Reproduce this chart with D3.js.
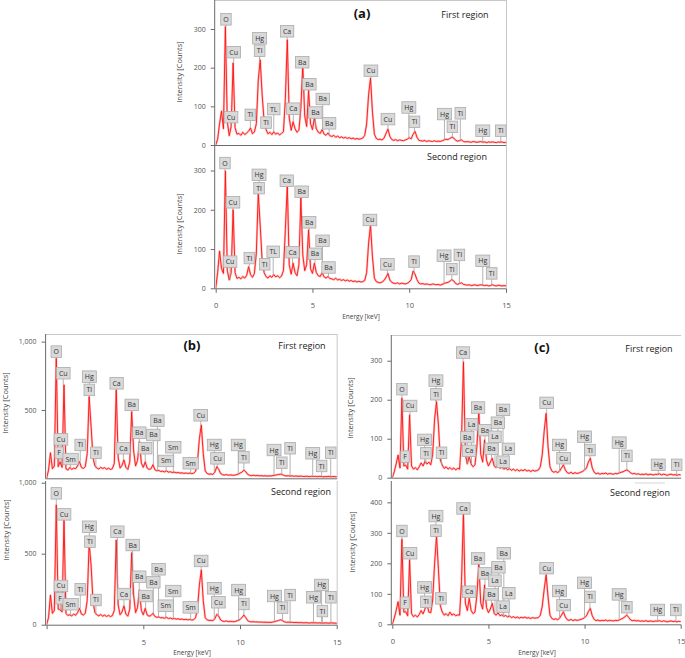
<!DOCTYPE html>
<html><head><meta charset="utf-8">
<script src="https://cdn.jsdelivr.net/npm/d3@7"></script>
<style>
body{margin:0;background:#fff}
svg{display:block}
text{font-family:"Open Sans","Noto Sans",Arial,sans-serif}
</style>
</head><body>
<svg id="chart" width="685" height="658"></svg>
<script>
// ---------- DATA ----------
// energy axis: 0.0 .. 15.0 keV, step 0.1 keV (151 channels)
const energies = d3.range(0, 151).map(i => i / 10);

// (a) first region
const spectrumA1 = [
0,15,55,88,42,306,60,24,48,212,
45,28,30,25,33,27,31,36,44,29,
34,55,168,220,130,62,40,29,33,27,
34,28,31,26,30,34,120,272,70,38,
60,42,33,38,95,207,75,48,142,55,
40,70,42,33,30,40,28,25,31,24,
22,25,20,23,19,21,18,20,17,19,
16,18,15,17,15,16,18,25,55,130,
173,85,28,17,14,15,13,18,30,41,
22,14,12,14,11,13,12,11,13,15,
19,16,28,35,20,12,11,10,12,9,
11,10,9,11,9,10,9,11,13,15,
14,17,20,18,12,10,11,13,9,8,
9,8,7,9,8,7,8,9,7,8,
6,8,7,8,7,6,8,7,8,6,
7];
// (a) second region
const spectrumA2 = [
0,40,95,50,38,299,45,21,40,200,
40,25,28,24,30,26,33,55,35,28,
38,90,242,160,70,40,30,26,32,28,
35,29,32,27,31,45,150,263,60,36,
64,40,32,60,230,85,45,60,149,50,
38,64,40,32,30,40,29,26,30,25,
24,22,26,21,23,20,22,19,21,18,
20,17,19,16,18,16,17,20,40,115,
161,80,26,17,15,14,16,20,28,38,
21,15,13,12,14,11,13,12,11,13,
16,22,44,36,22,13,11,12,10,11,
10,9,11,10,9,10,8,10,12,14,
15,18,22,19,12,10,12,14,10,9,
8,9,7,8,9,7,8,9,8,7,
8,6,7,9,7,6,8,7,6,7,
6];
// (b) first region
const spectrumB1 = [
0,60,187,70,90,878,85,120,80,683,
70,60,80,65,75,70,90,122,80,72,
85,180,597,380,150,90,75,68,80,72,
78,66,74,65,70,110,646,150,75,95,
134,80,65,120,488,200,90,130,268,110,
80,120,75,65,70,100,62,55,58,50,
52,47,55,45,48,42,45,40,43,38,
40,36,39,35,38,34,37,50,120,290,
390,180,55,35,30,32,28,45,85,65,
35,26,24,27,22,25,23,22,26,30,
38,45,60,48,28,22,20,22,19,21,
18,20,17,19,16,18,17,20,22,25,
28,30,26,20,17,19,16,18,15,17,
14,16,15,13,15,14,12,15,13,14,
12,14,13,11,13,12,14,11,13,12,
11];
// (b) second region
const spectrumB2 = [
0,50,209,80,100,843,110,104,90,737,
80,65,70,62,75,66,85,115,75,68,
80,170,573,420,160,85,70,62,72,60,
68,58,66,57,64,100,596,140,70,90,
132,75,60,110,507,210,85,120,244,100,
70,115,68,60,65,80,58,52,55,48,
50,45,52,43,47,41,44,39,42,37,
40,35,38,34,37,33,36,48,110,280,
385,170,50,34,30,31,28,42,73,60,
33,25,23,26,22,24,22,21,25,30,
36,50,68,50,28,22,20,21,19,20,
18,19,17,18,16,17,16,19,22,26,
30,35,28,20,17,18,16,17,15,16,
14,15,14,13,15,13,12,14,13,14,
12,13,12,11,13,12,11,13,12,11,
10];
// (c) first region
const spectrumC1 = [
0,15,35,58,25,204,30,32,22,161,
30,22,26,20,28,38,30,42,35,40,
33,60,150,195,135,45,32,24,28,22,
26,21,25,20,24,22,100,297,60,35,
54,35,28,33,80,170,60,40,97,45,
30,40,50,30,26,33,24,27,22,25,
20,23,19,22,18,21,17,20,18,21,
17,19,16,19,17,18,20,28,60,120,
165,80,28,17,14,16,13,17,25,33,
20,13,11,14,10,13,11,12,14,16,
20,25,40,50,25,14,10,12,9,11,
10,12,9,11,10,9,11,10,12,14,
15,18,20,17,12,10,11,9,10,8,
9,8,10,7,9,8,7,9,8,10,
7,9,8,6,8,9,7,8,6,8,
7];
// (c) second region
const spectrumC2 = [
0,20,45,74,30,279,40,41,28,211,
35,25,30,24,32,45,34,50,68,40,
38,80,200,290,180,60,40,30,35,28,
40,30,34,28,31,30,140,369,70,45,
85,45,35,40,95,200,70,50,129,55,
38,50,69,35,30,38,28,31,26,29,
24,27,22,25,21,24,20,23,21,24,
20,22,19,22,20,21,22,30,60,115,
162,90,30,19,16,18,15,20,30,41,
24,15,13,16,12,15,13,14,16,18,
22,28,42,52,28,16,12,14,11,13,
12,14,11,13,12,11,13,12,14,17,
20,25,30,22,14,12,13,11,12,10,
11,10,12,9,11,10,9,11,10,12,
9,11,10,8,10,11,9,10,8,10,
9];

// element markers: name, energy (keV), marker level (counts)
const markA1Names  = ["O","Cu","Cu","Tl","Hg","Tl","Tl","TL","Ca","Ca","Ba","Ba","Ba","Ba","Ba","Cu","Cu","Hg","Tl","Hg","Tl","Tl","Hg","Tl"];
const markA1Energy = [0.53,0.93,0.79,1.79,2.27,2.27,2.6,3.0,3.69,4.01,4.47,4.84,5.53,5.15,5.86,8.02,8.9,9.98,10.27,11.82,12.23,12.64,13.8,14.73];
const markA1Level  = [325,240,72,78,276,244,58,93,294,94,214,157,119,84,56,192,67,97,60,80,47,82,37,37];

const markA2Names  = ["O","Cu","Cu","Tl","Hg","Tl","Tl","TL","Ca","Ca","Ba","Ba","Ba","Ba","Ba","Cu","Cu","Tl","Hg","Tl","Tl","Hg","Tl"];
const markA2Energy = [0.48,0.89,0.74,1.74,2.24,2.24,2.53,2.97,3.67,3.97,4.44,4.83,5.52,5.13,5.83,7.97,8.87,10.25,11.8,12.2,12.59,13.8,14.26];
const markA2Level  = [319,219,68,77,289,255,61,93,274,92,246,168,121,88,53,174,61,68,83,49,85,70,38];

const markB1Names  = ["O","Cu","Cu","F","Sm","Tl","Hg","Tl","Tl","Ca","Ca","Ba","Ba","Ba","Ba","Ba","Sm","Sm","Sm","Cu","Hg","Cu","Hg","Tl","Hg","Tl","Tl","Hg","Tl","Tl"];
const markB1Energy = [0.5,0.86,0.74,0.65,1.24,1.74,2.21,2.21,2.55,3.62,3.97,4.4,4.79,5.73,5.52,5.1,6.55,6.18,7.45,7.97,8.67,8.84,9.91,10.2,11.76,12.16,12.59,13.76,14.22,14.69];
const markB1Level  = [927,769,285,187,141,244,744,647,187,695,220,537,334,422,317,220,227,127,110,461,244,146,244,154,207,114,220,183,90,187];

const markB2Names  = ["O","Cu","Cu","F","Sm","Tl","Hg","Tl","Tl","Ca","Ca","Ba","Ba","Ba","Ba","Ba","Sm","Sm","Sm","Cu","Hg","Cu","Hg","Tl","Hg","Tl","Tl","Hg","Hg","Tl","Tl"];
const markB2Energy = [0.5,0.9,0.74,0.7,1.24,1.74,2.21,2.24,2.55,3.66,4.0,4.45,4.79,5.79,5.52,5.12,6.55,6.16,7.45,7.99,8.67,8.88,9.93,10.2,11.78,12.2,12.59,13.8,14.22,14.26,14.7];
const markB2Level  = [925,777,273,186,144,249,690,585,174,655,216,561,338,390,299,202,237,134,122,449,256,158,244,146,202,120,209,193,280,96,193];

const markC1Names  = ["O","Cu","F","Hg","Tl","Hg","Tl","Tl","Ca","Ba","La","Ba","Ca","Ba","Ba","Ba","La","Ba","La","La","Cu","Hg","Cu","Hg","Tl","Hg","Tl","Hg","Tl"];
const markC1Energy = [0.5,0.92,0.66,1.68,1.75,2.27,2.27,2.56,3.68,4.46,4.12,3.9,4.0,4.82,5.16,5.49,5.34,5.76,6.04,5.76,8.03,8.7,8.91,10.0,10.28,11.8,12.2,13.83,14.79];
const markC1Level  = [227,184,54,97,63,249,214,64,321,180,137,104,69,122,74,141,105,174,74,41,192,84,50,105,71,90,56,33,33];

const markC2Names  = ["O","Cu","F","Hg","Tl","Hg","Tl","Tl","Ca","Ba","Ca","Ba","Ba","Ba","La","Ba","La","La","Cu","Hg","Cu","Hg","Tl","Hg","Tl","Hg","Tl"];
const markC2Energy = [0.5,0.92,0.66,1.68,1.75,2.27,2.27,2.53,3.7,4.46,4.0,4.82,5.16,5.52,5.34,5.8,6.06,5.76,8.03,8.7,8.91,10.0,10.28,11.8,12.2,13.8,14.75];
const markC2Level  = [306,233,71,121,74,355,307,85,380,216,107,167,98,187,143,233,102,58,184,109,63,136,90,98,56,47,47];

const yTicksA = [0,100,200,300];
const yTicksB1 = [500,1000];
const yTicksB2 = [0,500,1000];
const yTicksC2 = [0,100,200,300,400];
const xTickLabelsAC = [0,5,10,15];
const xTickLabelsB = [5,10,15];

// ---------- LAYOUT ----------
const panels = [
 {data:spectrumA1, names:markA1Names, en:markA1Energy, lv:markA1Level,
  x0:215.7, x1:506, yTop:0, yBot:145, yMax:375, yTicks:yTicksA, minor:20, xLabels:null, fmt:d3.format("d"),
  frameTop:true, frameRight:true, ylab:[180,72], title:["(a)",362,15], region:["First region",465,16]},
 {data:spectrumA2, names:markA2Names, en:markA2Energy, lv:markA2Level,
  x0:215.7, x1:506, yTop:145, yBot:288.3, yMax:365, yTicks:yTicksA, minor:20, xLabels:xTickLabelsAC, fmt:d3.format("d"),
  frameTop:false, frameRight:true, ylab:[180,224], region:["Second region",457,158], xtitle:[361,317]},
 {data:spectrumB1, names:markB1Names, en:markB1Energy, lv:markB1Level,
  x0:46.6, x1:336.7, yTop:334, yBot:478.3, yMax:1056, yTicks:yTicksB1, minor:100, xLabels:null, fmt:d3.format(","),
  frameTop:true, frameRight:true, ylab:[6,403], title:["(b)",192,347], region:["First region",302,347]},
 {data:spectrumB2, names:markB2Names, en:markB2Energy, lv:markB2Level,
  x0:46.6, x1:336.7, yTop:481, yBot:624.7, yMax:1012, yTicks:yTicksB2, minor:100, xLabels:xTickLabelsB, fmt:d3.format(","),
  frameTop:false, frameRight:true, ylab:[7,530], region:["Second region",301,493], xtitle:[192,653]},
 {data:spectrumC1, names:markC1Names, en:markC1Energy, lv:markC1Level,
  x0:392.3, x1:680.7, yTop:335, yBot:477.7, yMax:366, yTicks:yTicksA, minor:20, xLabels:null, fmt:d3.format("d"),
  frameTop:true, frameRight:false, ylab:[351,408], title:["(c)",542,349], region:["First region",649,350]},
 {data:spectrumC2, names:markC2Names, en:markC2Energy, lv:markC2Level,
  x0:392.3, x1:680.7, yTop:481, yBot:624.3, yMax:470, yTicks:yTicksC2, minor:20, xLabels:xTickLabelsAC, fmt:d3.format("d"),
  frameTop:false, frameRight:false, ylab:[353,542], region:["Second region",640,494], xtitle:[537,653]}
];

const svg = d3.select("#chart");
const axisCol = "#6b6b6b", tickTxt = "#555";

panels.forEach((p, pi) => {
  const x = d3.scaleLinear().domain([0, 15]).range([p.x0, p.x1]);
  const y = d3.scaleLinear().domain([0, p.yMax]).range([p.yBot, p.yTop]);
  const g = svg.append("g");
  const right = Math.min(p.x1 + 0.5, 684.5);

  // frame
  if (p.frameTop) g.append("line").attr("x1", p.x0 - 1).attr("x2", right).attr("y1", p.yTop + 0.5).attr("y2", p.yTop + 0.5)
      .attr("stroke", "#c8c8c8").attr("stroke-width", 1);
  if (p.frameRight) g.append("line").attr("x1", right).attr("x2", right).attr("y1", p.yTop).attr("y2", p.yBot)
      .attr("stroke", "#c8c8c8").attr("stroke-width", 1);

  // clip
  const cid = "clip" + pi;
  svg.append("clipPath").attr("id", cid).append("rect")
    .attr("x", p.x0).attr("y", p.yTop).attr("width", p.x1 - p.x0 + 1).attr("height", p.yBot - p.yTop);

  // spectrum
  const line = d3.line().x((d, i) => x(energies[i])).y(d => y(d));
  const sg = g.append("g").attr("clip-path", `url(#${cid})`);
  sg.append("path").datum(p.data).attr("d", line).attr("fill", "none")
    .attr("stroke", "#ff8a8a").attr("stroke-width", 2.2).attr("stroke-opacity", 0.55).attr("stroke-linejoin", "round");
  sg.append("path").datum(p.data).attr("d", line).attr("fill", "none")
    .attr("stroke", "#ff1010").attr("stroke-width", 0.9).attr("stroke-linejoin", "round");

  // y axis
  const yAx = g.append("g").attr("transform", `translate(${p.x0 - 1},0)`);
  yAx.call(d3.axisLeft(y).tickValues(d3.range(0, p.yMax, p.minor)).tickSize(2).tickFormat(""));
  yAx.call(d3.axisLeft(y).tickValues(p.yTicks).tickSize(4).tickPadding(5).tickFormat(p.fmt));
  yAx.selectAll(".domain").remove();
  yAx.append("line").attr("y1", p.yTop).attr("y2", p.yBot + 0.5).attr("stroke", axisCol);
  yAx.selectAll("line").attr("stroke", axisCol);
  yAx.selectAll("text").attr("fill", tickTxt).style("font-size", "7px");

  // x axis
  const xAx = g.append("g").attr("transform", `translate(0,${p.yBot + 0.5})`);
  xAx.append("line").attr("x1", p.x0 - 1).attr("x2", right).attr("stroke", axisCol);
  if (p.xLabels) {
    xAx.call(d3.axisBottom(x).tickValues(d3.range(0, 16)).tickSize(2).tickFormat(""));
    xAx.call(d3.axisBottom(x).tickValues([0, 5, 10, 15]).tickSize(4).tickPadding(10)
      .tickFormat(v => p.xLabels.includes(v) ? v : ""));
    xAx.selectAll(".domain").remove();
    xAx.selectAll("line").attr("stroke", axisCol);
    xAx.selectAll("text").attr("fill", tickTxt).style("font-size", "7.5px");
    g.append("text").attr("x", p.xtitle[0]).attr("y", p.xtitle[1]).attr("text-anchor", "middle")
      .attr("dominant-baseline", "middle").attr("fill", "#444").style("font-size", "6.5px").text("Energy [keV]");
  }

  // y title
  g.append("text").attr("transform", `translate(${p.ylab[0]},${p.ylab[1]}) rotate(-90)`)
    .attr("text-anchor", "middle").attr("dominant-baseline", "middle")
    .attr("fill", "#444").style("font-size", "7.5px").text("Intensity [Counts]");

  // titles
  if (p.title) g.append("text").attr("x", p.title[1]).attr("y", p.title[2]).attr("text-anchor", "middle")
    .attr("dominant-baseline", "middle").style("font-size", "13px").style("font-weight", "bold").attr("fill", "#111").text(p.title[0]);
  g.append("text").attr("x", p.region[1]).attr("y", p.region[2]).attr("text-anchor", "middle")
    .attr("dominant-baseline", "middle").style("font-size", "9px").attr("fill", "#222").text(p.region[0]);

  // element markers
  const boxH = 11.5;
  const mk = g.append("g");
  const conn = mk.append("g");
  const boxes = mk.append("g");
  p.names.forEach((n, i) => {
    const e = p.en[i];
    const cx = x(e), cy = y(p.lv[i]);
    const idx = Math.max(0, Math.min(150, Math.round(e * 10)));
    const yd = y(p.data[idx]);
    if (yd > cy + boxH / 2) conn.append("line").attr("x1", cx).attr("x2", cx)
      .attr("y1", cy + boxH / 2).attr("y2", yd).attr("stroke", "#a0a0a0").attr("stroke-width", 0.8);
    const bg = boxes.append("g");
    const t = bg.append("text").attr("x", cx).attr("y", cy).attr("text-anchor", "middle")
      .attr("dominant-baseline", "central").attr("fill", "#333").style("font-size", "7px").text(n);
    const w = t.node().getComputedTextLength() + 5;
    bg.insert("rect", "text").attr("x", cx - w / 2).attr("y", cy - boxH / 2).attr("width", w).attr("height", boxH)
      .attr("fill", "#d9d9d9").attr("stroke", "#ababab").attr("stroke-width", 0.8);
  });
});

// small faint frame fragment in (c)
svg.append("line").attr("x1", 635).attr("x2", 665).attr("y1", 483).attr("y2", 483).attr("stroke", "#d5d5d5");
</script>
</body></html>
